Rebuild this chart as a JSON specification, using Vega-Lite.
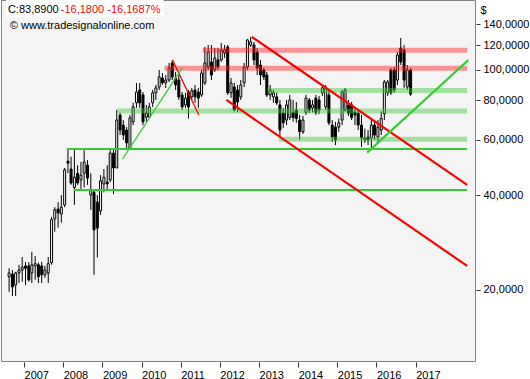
{
"$schema": "https://vega.github.io/schema/vega-lite/v6.json",
"width": 474, "height": 361,
"autosize": {"type": "none"},
"padding": {"left": 1, "top": 0, "right": 55, "bottom": 18},
"background": "#ffffff",
"config": {"view": {"fill": "#f4f4f4", "stroke": "#808080", "strokeWidth": 1}, "font": "Liberation Sans"},
"datasets": {
"candles": [
{"date":"2006-08-15","open":22.0,"high":23.4,"low":19.7,"close":22.6},
{"date":"2006-09-15","open":22.4,"high":23.1,"low":19.1,"close":20.4},
{"date":"2006-10-15","open":20.7,"high":22.8,"low":19.1,"close":22.6},
{"date":"2006-11-15","open":22.6,"high":24.0,"low":21.0,"close":23.1},
{"date":"2006-12-15","open":23.1,"high":25.4,"low":21.2,"close":23.6},
{"date":"2007-01-15","open":23.8,"high":24.5,"low":20.7,"close":23.4},
{"date":"2007-02-15","open":23.8,"high":24.5,"low":21.2,"close":21.5},
{"date":"2007-03-15","open":22.6,"high":26.4,"low":21.0,"close":24.0},
{"date":"2007-04-15","open":23.8,"high":25.6,"low":21.5,"close":24.2},
{"date":"2007-05-15","open":24.0,"high":24.4,"low":21.0,"close":22.0},
{"date":"2007-06-15","open":23.8,"high":24.5,"low":21.0,"close":22.3},
{"date":"2007-07-15","open":22.3,"high":23.8,"low":21.8,"close":23.1},
{"date":"2007-08-15","open":22.6,"high":25.4,"low":21.0,"close":24.2},
{"date":"2007-09-15","open":24.4,"high":34.1,"low":24.0,"close":33.4},
{"date":"2007-10-15","open":33.6,"high":36.6,"low":30.6,"close":35.9},
{"date":"2007-11-15","open":36.1,"high":38.0,"low":31.5,"close":35.1},
{"date":"2007-12-15","open":34.8,"high":40.0,"low":32.7,"close":36.6},
{"date":"2008-01-15","open":37.2,"high":48.8,"low":36.6,"close":48.1},
{"date":"2008-02-15","open":51.3,"high":55.6,"low":47.0,"close":50.5},
{"date":"2008-03-15","open":48.4,"high":53.0,"low":43.1,"close":43.7},
{"date":"2008-04-15","open":42.3,"high":55.6,"low":37.2,"close":45.6},
{"date":"2008-05-15","open":46.9,"high":49.8,"low":43.1,"close":43.7},
{"date":"2008-06-15","open":44.7,"high":51.0,"low":41.5,"close":46.3},
{"date":"2008-07-15","open":46.9,"high":55.6,"low":42.3,"close":51.0},
{"date":"2008-08-15","open":49.8,"high":51.7,"low":43.1,"close":45.3},
{"date":"2008-09-15","open":40.0,"high":46.9,"low":35.9,"close":41.5},
{"date":"2008-10-15","open":40.8,"high":41.5,"low":22.3,"close":31.0},
{"date":"2008-11-15","open":38.0,"high":40.0,"low":25.3,"close":31.4},
{"date":"2008-12-15","open":35.6,"high":46.3,"low":34.6,"close":44.4},
{"date":"2009-01-15","open":43.4,"high":48.4,"low":40.8,"close":45.6},
{"date":"2009-02-15","open":44.0,"high":49.8,"low":41.5,"close":43.4},
{"date":"2009-03-15","open":44.7,"high":55.6,"low":44.0,"close":54.4},
{"date":"2009-04-15","open":54.4,"high":55.6,"low":40.3,"close":48.8},
{"date":"2009-05-15","open":48.8,"high":74.6,"low":48.8,"close":69.3},
{"date":"2009-06-15","open":71.9,"high":73.1,"low":62.1,"close":64.4},
{"date":"2009-07-15","open":66.8,"high":69.3,"low":59.9,"close":62.1},
{"date":"2009-08-15","open":64.4,"high":65.8,"low":55.6,"close":58.6},
{"date":"2009-09-15","open":56.4,"high":71.9,"low":55.6,"close":70.4},
{"date":"2009-10-15","open":68.4,"high":78.6,"low":66.8,"close":76.3},
{"date":"2009-11-15","open":78.6,"high":90.9,"low":75.8,"close":85.1},
{"date":"2009-12-15","open":86.4,"high":90.9,"low":75.8,"close":78.6},
{"date":"2010-01-15","open":83.3,"high":85.1,"low":66.8,"close":68.4},
{"date":"2010-02-15","open":70.8,"high":77.4,"low":68.4,"close":72.9},
{"date":"2010-03-15","open":70.8,"high":78.6,"low":70.4,"close":76.3},
{"date":"2010-04-15","open":78.6,"high":86.4,"low":76.3,"close":84.6},
{"date":"2010-05-15","open":84.6,"high":89.6,"low":80.3,"close":87.7},
{"date":"2010-06-15","open":88.3,"high":100.0,"low":86.4,"close":95.0},
{"date":"2010-07-15","open":94.3,"high":97.8,"low":89.6,"close":91.0},
{"date":"2010-08-15","open":91.0,"high":96.4,"low":87.7,"close":92.9},
{"date":"2010-09-15","open":92.9,"high":105.3,"low":91.6,"close":101.5},
{"date":"2010-10-15","open":105.3,"high":107.6,"low":92.9,"close":95.0},
{"date":"2010-11-15","open":94.3,"high":98.5,"low":86.4,"close":89.6},
{"date":"2010-12-15","open":92.9,"high":96.4,"low":80.3,"close":82.1},
{"date":"2011-01-15","open":83.3,"high":85.1,"low":74.6,"close":76.3},
{"date":"2011-02-15","open":77.4,"high":84.6,"low":75.8,"close":81.4},
{"date":"2011-03-15","open":85.1,"high":86.4,"low":70.1,"close":76.3},
{"date":"2011-04-15","open":82.1,"high":87.7,"low":80.3,"close":85.9},
{"date":"2011-05-15","open":86.4,"high":89.6,"low":78.6,"close":82.1},
{"date":"2011-06-15","open":85.1,"high":87.7,"low":75.8,"close":81.4},
{"date":"2011-07-15","open":83.3,"high":100.0,"low":82.1,"close":97.8},
{"date":"2011-08-15","open":91.0,"high":118.4,"low":89.6,"close":105.3},
{"date":"2011-09-15","open":102.2,"high":120.1,"low":100.0,"close":114.1},
{"date":"2011-10-15","open":106.0,"high":120.1,"low":92.9,"close":96.4},
{"date":"2011-11-15","open":100.0,"high":117.5,"low":98.6,"close":109.2},
{"date":"2011-12-15","open":107.6,"high":117.5,"low":100.0,"close":102.2},
{"date":"2012-01-15","open":107.6,"high":121.9,"low":106.3,"close":115.8},
{"date":"2012-02-15","open":113.3,"high":120.1,"low":109.2,"close":115.8},
{"date":"2012-03-15","open":118.4,"high":120.1,"low":83.3,"close":84.6},
{"date":"2012-04-15","open":84.6,"high":94.3,"low":81.4,"close":91.0},
{"date":"2012-05-15","open":88.3,"high":91.0,"low":73.8,"close":74.6},
{"date":"2012-06-15","open":86.4,"high":89.6,"low":73.3,"close":79.1},
{"date":"2012-07-15","open":82.1,"high":92.9,"low":80.3,"close":89.6},
{"date":"2012-08-15","open":91.0,"high":105.3,"low":88.3,"close":102.2},
{"date":"2012-09-15","open":102.2,"high":125.5,"low":100.0,"close":124.6},
{"date":"2012-10-15","open":120.1,"high":127.4,"low":118.4,"close":122.8},
{"date":"2012-11-15","open":120.1,"high":122.8,"low":103.7,"close":107.6},
{"date":"2012-12-15","open":114.1,"high":117.5,"low":96.4,"close":101.5},
{"date":"2013-01-15","open":103.7,"high":107.6,"low":89.6,"close":96.4},
{"date":"2013-02-15","open":100.0,"high":101.5,"low":92.9,"close":95.0},
{"date":"2013-03-15","open":96.4,"high":98.5,"low":82.1,"close":83.3},
{"date":"2013-04-15","open":83.3,"high":89.6,"low":80.3,"close":86.4},
{"date":"2013-05-15","open":82.1,"high":86.4,"low":78.6,"close":84.6},
{"date":"2013-06-15","open":82.1,"high":84.6,"low":77.4,"close":78.6},
{"date":"2013-07-15","open":77.4,"high":80.3,"low":61.2,"close":64.4},
{"date":"2013-08-15","open":72.9,"high":75.8,"low":65.4,"close":67.9},
{"date":"2013-09-15","open":69.3,"high":80.3,"low":66.8,"close":77.4},
{"date":"2013-10-15","open":70.6,"high":83.3,"low":69.3,"close":80.3},
{"date":"2013-11-15","open":73.3,"high":80.3,"low":68.4,"close":70.6},
{"date":"2013-12-15","open":74.6,"high":79.1,"low":67.9,"close":70.1},
{"date":"2014-01-15","open":69.3,"high":71.9,"low":59.9,"close":63.6},
{"date":"2014-02-15","open":63.6,"high":71.4,"low":62.6,"close":69.3},
{"date":"2014-03-15","open":73.3,"high":83.3,"low":71.9,"close":81.4},
{"date":"2014-04-15","open":80.3,"high":81.4,"low":72.9,"close":74.6},
{"date":"2014-05-15","open":75.8,"high":80.3,"low":73.3,"close":77.4},
{"date":"2014-06-15","open":81.4,"high":83.3,"low":71.9,"close":73.3},
{"date":"2014-07-15","open":80.3,"high":82.7,"low":72.4,"close":74.6},
{"date":"2014-08-15","open":84.6,"high":89.6,"low":82.7,"close":87.7},
{"date":"2014-09-15","open":76.3,"high":89.6,"low":74.6,"close":87.7},
{"date":"2014-10-15","open":83.3,"high":86.4,"low":66.8,"close":67.9},
{"date":"2014-11-15","open":66.8,"high":69.3,"low":59.0,"close":61.2},
{"date":"2014-12-15","open":65.8,"high":68.4,"low":57.7,"close":59.9},
{"date":"2015-01-15","open":65.8,"high":70.1,"low":63.6,"close":67.9},
{"date":"2015-02-15","open":69.3,"high":86.4,"low":66.8,"close":85.1},
{"date":"2015-03-15","open":74.6,"high":87.7,"low":73.8,"close":86.4},
{"date":"2015-04-15","open":77.4,"high":80.3,"low":71.4,"close":72.9},
{"date":"2015-05-15","open":77.4,"high":79.1,"low":69.3,"close":70.6},
{"date":"2015-06-15","open":73.3,"high":75.8,"low":66.8,"close":71.9},
{"date":"2015-07-15","open":72.9,"high":74.6,"low":64.4,"close":66.8},
{"date":"2015-08-15","open":66.8,"high":71.9,"low":56.9,"close":60.8},
{"date":"2015-09-15","open":59.9,"high":65.1,"low":58.6,"close":60.8},
{"date":"2015-10-15","open":61.2,"high":64.4,"low":57.7,"close":59.9},
{"date":"2015-11-15","open":60.8,"high":69.3,"low":55.6,"close":66.8},
{"date":"2015-12-15","open":66.8,"high":68.4,"low":59.9,"close":62.1},
{"date":"2016-01-15","open":61.2,"high":69.3,"low":59.0,"close":65.8},
{"date":"2016-02-15","open":64.4,"high":73.8,"low":62.1,"close":70.1},
{"date":"2016-03-15","open":72.6,"high":92.9,"low":69.3,"close":91.6},
{"date":"2016-04-15","open":84.6,"high":92.9,"low":82.7,"close":91.6},
{"date":"2016-05-15","open":100.0,"high":101.5,"low":83.3,"close":84.6},
{"date":"2016-06-15","open":100.0,"high":102.2,"low":84.6,"close":86.4},
{"date":"2016-07-15","open":92.9,"high":114.1,"low":89.6,"close":111.6},
{"date":"2016-08-15","open":117.5,"high":126.4,"low":103.7,"close":106.0},
{"date":"2016-09-15","open":115.8,"high":120.1,"low":87.7,"close":92.9},
{"date":"2016-10-15","open":88.3,"high":103.7,"low":86.4,"close":100.07},
{"date":"2016-11-15","open":100.0,"high":101.5,"low":82.7,"close":83.89}
],
"levels": [
{"kind":"redband","start":"2011-07-26","end":"2018-04-26","price":115.6},
{"kind":"redband","start":"2010-08-04","end":"2018-04-26","price":101.3},
{"kind":"greenband","start":"2013-03-20","end":"2018-04-26","price":86.0},
{"kind":"greenband","start":"2009-05-15","end":"2018-04-26","price":74.0},
{"kind":"greenband","start":"2013-07-08","end":"2018-04-26","price":60.2},
{"kind":"greenline","start":"2008-02-04","end":"2018-04-26","price":56.1},
{"kind":"greenline","start":"2008-04-08","end":"2018-04-26","price":41.5}
],
"trends": [
{"name":"upper channel","kind":"red","date":"2012-10-26","price":127.4},
{"name":"upper channel","kind":"red","date":"2018-04-26","price":43.1},
{"name":"lower channel","kind":"red","date":"2012-03-03","price":80.3},
{"name":"lower channel","kind":"red","date":"2018-04-26","price":23.8},
{"name":"short down","kind":"redthin","date":"2010-10-17","price":107.6},
{"name":"short down","kind":"redthin","date":"2011-06-20","price":71.9},
{"name":"uptrend 2015","kind":"green","date":"2015-10-07","price":54.6},
{"name":"uptrend 2015","kind":"green","date":"2018-05-08","price":107.6},
{"name":"uptrend 2009","kind":"greenthin","date":"2009-07-08","price":52.1},
{"name":"uptrend 2009","kind":"greenthin","date":"2011-01-16","price":101.5}
],
"one": [{}]
},
"layer": [
{
"data": {"name": "one"},
"mark": {"type": "rect", "color": "#ffffff"},
"encoding": {
"x": {"datum": {"year": 2006, "month": 7, "date": 17, "utc": true}, "type": "temporal",
"scale": {"type": "utc", "domain": [{"year": 2006, "month": 7, "date": 17, "utc": true}, {"year": 2018, "month": 5, "date": 23, "utc": true}]},
"axis": {"values": [{"year":2007,"month":1,"date":1,"utc":true},{"year":2008,"month":1,"date":1,"utc":true},{"year":2009,"month":1,"date":1,"utc":true},{"year":2010,"month":1,"date":1,"utc":true},{"year":2011,"month":1,"date":1,"utc":true},{"year":2012,"month":1,"date":1,"utc":true},{"year":2013,"month":1,"date":1,"utc":true},{"year":2014,"month":1,"date":1,"utc":true},{"year":2015,"month":1,"date":1,"utc":true},{"year":2016,"month":1,"date":1,"utc":true},{"year":2017,"month":1,"date":1,"utc":true}],
"format": "%Y", "title": null, "grid": false, "domain": false, "tickSize": 5, "tickColor": "#333333", "offset": 1,
"labelAlign": "left", "labelDx": 1, "labelPadding": 2, "labelFontSize": 11, "labelColor": "#000000", "labelOverlap": false}},
"x2": {"datum": {"year": 2010, "month": 7, "date": 26, "utc": true}},
"y": {"datum": 167, "type": "quantitative",
"scale": {"type": "log", "domain": [11.86, 167], "nice": false},
"axis": {"orient": "right", "values": [20, 40, 60, 80, 100, 120, 140], "labelExpr": "replace(format(datum.value, '.4f'), '.', ',')",
"grid": false, "domain": false, "tickSize": 4, "tickColor": "#333333", "offset": 1, "labelPadding": 3, "labelFontSize": 11, "labelColor": "#000000",
"title": "$", "titleAngle": 0, "titleX": 4, "titleY": 13, "titleAlign": "left", "titleBaseline": "alphabetic", "titleFontSize": 11, "titleFontWeight": "normal", "titleColor": "#000000"}},
"y2": {"datum": 147.4}
}
},
{
"data": {"name": "candles"},
"mark": {"type": "rule", "color": "#000000", "strokeWidth": 1},
"encoding": {
"x": {"field": "date", "type": "temporal"},
"y": {"field": "low", "type": "quantitative"},
"y2": {"field": "high"}
}
},
{
"data": {"name": "candles"},
"mark": {"type": "bar", "width": 2, "stroke": "#000000", "strokeWidth": 1},
"encoding": {
"x": {"field": "date", "type": "temporal"},
"y": {"field": "open", "type": "quantitative"},
"y2": {"field": "close"},
"fill": {"condition": {"test": "datum.close > datum.open", "value": "#ffffff"}, "value": "#000000"}
}
},
{
"data": {"name": "levels"},
"transform": [{"filter": "datum.kind === 'redband'"}],
"mark": {"type": "rule", "color": "#ff2020", "opacity": 0.45, "strokeWidth": 5, "strokeCap": "butt"},
"encoding": {
"x": {"field": "start", "type": "temporal"},
"x2": {"field": "end"},
"y": {"field": "price", "type": "quantitative"}
}
},
{
"data": {"name": "levels"},
"transform": [{"filter": "datum.kind === 'greenband'"}],
"mark": {"type": "rule", "color": "#40c838", "opacity": 0.45, "strokeWidth": 5, "strokeCap": "butt"},
"encoding": {
"x": {"field": "start", "type": "temporal"},
"x2": {"field": "end"},
"y": {"field": "price", "type": "quantitative"}
}
},
{
"data": {"name": "levels"},
"transform": [{"filter": "datum.kind === 'greenline'"}],
"mark": {"type": "rule", "color": "#33cc33", "strokeWidth": 2, "strokeCap": "butt"},
"encoding": {
"x": {"field": "start", "type": "temporal"},
"x2": {"field": "end"},
"y": {"field": "price", "type": "quantitative"}
}
},
{
"data": {"name": "trends"},
"transform": [{"filter": "datum.kind === 'red'"}],
"mark": {"type": "line", "color": "#ff0000", "strokeWidth": 2.2, "clip": true},
"encoding": {
"x": {"field": "date", "type": "temporal"},
"y": {"field": "price", "type": "quantitative"},
"detail": {"field": "name"}
}
},
{
"data": {"name": "trends"},
"transform": [{"filter": "datum.kind === 'redthin'"}],
"mark": {"type": "line", "color": "#ff0000", "strokeWidth": 1.3, "clip": true},
"encoding": {
"x": {"field": "date", "type": "temporal"},
"y": {"field": "price", "type": "quantitative"},
"detail": {"field": "name"}
}
},
{
"data": {"name": "trends"},
"transform": [{"filter": "datum.kind === 'green'"}],
"mark": {"type": "line", "color": "#33cc33", "strokeWidth": 2.2, "clip": true},
"encoding": {
"x": {"field": "date", "type": "temporal"},
"y": {"field": "price", "type": "quantitative"},
"detail": {"field": "name"}
}
},
{
"data": {"name": "trends"},
"transform": [{"filter": "datum.kind === 'greenthin'"}],
"mark": {"type": "line", "color": "#33cc33", "strokeWidth": 1.3, "clip": true},
"encoding": {
"x": {"field": "date", "type": "temporal"},
"y": {"field": "price", "type": "quantitative"},
"detail": {"field": "name"}
}
},
{
"data": {"name": "one"},
"mark": {"type": "text", "text": "C:83,8900", "align": "left", "baseline": "alphabetic", "fontSize": 11, "color": "#000000"},
"encoding": {
"x": {"datum": {"year": 2006, "month": 8, "date": 4, "utc": true}, "type": "temporal"},
"y": {"datum": 152.2, "type": "quantitative"}
}
},
{
"data": {"name": "one"},
"mark": {"type": "text", "text": "-16,1800 -16,1687%", "align": "left", "baseline": "alphabetic", "fontSize": 11, "color": "#ff0000"},
"encoding": {
"x": {"datum": {"year": 2007, "month": 12, "date": 10, "utc": true}, "type": "temporal"},
"y": {"datum": 152.2, "type": "quantitative"}
}
},
{
"data": {"name": "one"},
"mark": {"type": "text", "text": "© www.tradesignalonline.com", "align": "left", "baseline": "alphabetic", "fontSize": 11, "color": "#000000"},
"encoding": {
"x": {"datum": {"year": 2006, "month": 8, "date": 22, "utc": true}, "type": "temporal"},
"y": {"datum": 134.7, "type": "quantitative"}
}
}
]
}
